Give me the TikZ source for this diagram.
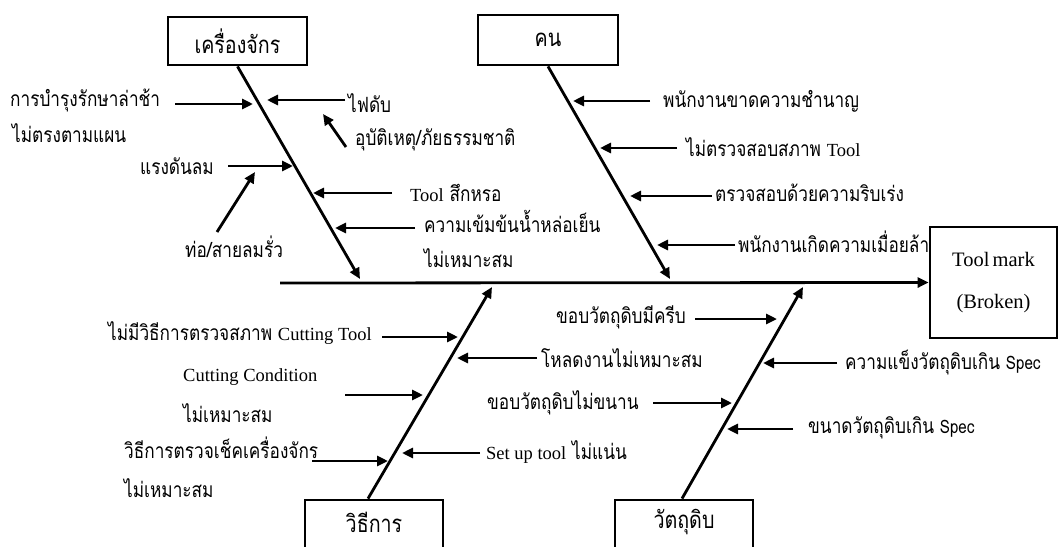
\documentclass[tikz,border=0pt]{standalone}
\usepackage{fontspec}
\setmainfont{Liberation Serif}
\newfontfamily\thai[Script=Thai,FakeStretch=0.82]{Loma}
\usetikzlibrary{arrows.meta}
\newcommand{\lat}[1]{{\rmfamily\fontsize{18.5}{20}\selectfont #1}}
\newcommand{\slat}[1]{{\fontsize{18.5}{20}\selectfont #1}}
\tikzset{
  bone/.style={line width=2.8pt,-{Triangle[length=11pt,width=10pt]}},
  cause/.style={line width=2.8pt,-{Triangle[length=11pt,width=10pt]}},
  catbox/.style={draw,line width=2.8pt,inner sep=0pt,font=\thai\fontsize{24}{26}\selectfont},
  lbl/.style={anchor=west,inner sep=0pt,font=\thai\fontsize{21}{24}\selectfont},
}
\begin{document}
\begin{tikzpicture}[x=1pt,y=-1pt]
\useasboundingbox[fill=white] (0,0) rectangle (1059,546);
% category boxes
\node[catbox,minimum width=139pt,minimum height=48pt] (mach) at (237.5,41) {เครื่องจักร};
\node[catbox,minimum width=140pt,minimum height=50pt] (man) at (548,40) {คน};
\node[catbox,minimum width=138pt,minimum height=54pt] (meth) at (374,527) {};
\node[lbl,font=\thai\fontsize{24}{26}\selectfont,anchor=center] (methT) at (374,522) {วิธีการ};
\node[catbox,minimum width=138pt,minimum height=54pt] (mat) at (684,527) {};
\node[lbl,font=\thai\fontsize{24}{26}\selectfont,anchor=center] (matT) at (684,522) {วัตถุดิบ};
\node[draw,line width=2.8pt,minimum width=127pt,minimum height=111pt,align=center,
      font=\rmfamily\fontsize{20.5}{42}\selectfont] (eff) at (993.5,282.5) {Tool\hspace{-2pt} mark\\(Broken)};
% spine and bones
\coordinate (sp0) at (280,283);
\draw[bone] (sp0) -- (eff.west);
\coordinate (mE) at (360,279);
\coordinate (pE) at (670,279);
\coordinate (meE) at (492,287);
\coordinate (maE) at (803,287);
\draw[bone] (mach.south) -- (mE);
\draw[bone] (man.south) -- (pE);
\draw[bone] ([xshift=-6pt]meth.north) -- (meE);
\draw[bone] ([xshift=-2pt]mat.north) -- (maE);
% machine causes
\node[lbl] (t1) at (10,100) {การบำรุงรักษาล่าช้า};
\node[lbl] (t1b) at (12,133) {ไม่ตรงตามแผน};
\node[lbl] (t2) at (348,103) {ไฟดับ};
\node[lbl] (t3) at (355,140) {อุบัติเหตุ/ภัยธรรมชาติ};
\node[lbl] (t4) at (140,166) {แรงดันลม};
\node[lbl] (t5) at (185,247) {ท่อ/สายลมรั่ว};
\node[lbl] (t6) at (410,193) {\lat{Tool} สึกหรอ};
\node[lbl] (t7) at (424,221) {ความเข้มข้นน้ำหล่อเย็น};
\node[lbl] (t7b) at (424,258) {ไม่เหมาะสม};
\coordinate (a1s) at (175,104); \coordinate (a1e) at (253,104);
\coordinate (a2s) at (345,100); \coordinate (a2e) at (267,100);
\coordinate (a3s) at (346,147); \coordinate (a3e) at (323,114);
\coordinate (a4s) at (228,166); \coordinate (a4e) at (293,166);
\coordinate (a5s) at (217,232); \coordinate (a5e) at (255,172);
\coordinate (a6s) at (392,193); \coordinate (a6e) at (313,193);
\coordinate (a7s) at (415,228); \coordinate (a7e) at (335,228);
\foreach \i in {1,...,7}{\draw[cause] (a\i s) -- (a\i e);}
% man causes
\node[lbl] (p1t) at (663,101) {พนักงานขาดความชำนาญ};
\node[lbl] (p2t) at (686,147) {ไม่ตรวจสอบสภาพ \lat{Tool}};
\node[lbl] (p3t) at (715,193) {ตรวจสอบด้วยความริบเร่ง};
\node[lbl] (p4t) at (738,242) {พนักงานเกิดความเมื่อยล้า};
\coordinate (b1s) at (650,101); \coordinate (b1e) at (573,101);
\coordinate (b2s) at (677,148); \coordinate (b2e) at (600,148);
\coordinate (b3s) at (712,196); \coordinate (b3e) at (630,196);
\coordinate (b4s) at (735,245); \coordinate (b4e) at (657,245);
\foreach \i in {1,...,4}{\draw[cause] (b\i s) -- (b\i e);}
% method causes
\node[lbl] (m1t) at (108,333) {ไม่มีวิธีการตรวจสภาพ \lat{Cutting Tool}};
\node[lbl] (m2t) at (183,377) {\lat{Cutting Condition}};
\node[lbl] (m2b) at (183,413) {ไม่เหมาะสม};
\node[lbl] (m3t) at (124,448) {วิธีการตรวจเช็คเครื่องจักร};
\node[lbl] (m3b) at (124,488) {ไม่เหมาะสม};
\node[lbl] (m4t) at (541,358) {โหลดงานไม่เหมาะสม};
\node[lbl] (m5t) at (486,452) {\lat{Set up tool} ไม่แน่น};
\coordinate (c1s) at (382,337); \coordinate (c1e) at (458,337);
\coordinate (c2s) at (345,395); \coordinate (c2e) at (423,395);
\coordinate (c3s) at (312,461); \coordinate (c3e) at (388,461);
\coordinate (c4s) at (537,358); \coordinate (c4e) at (457,358);
\coordinate (c5s) at (480,453); \coordinate (c5e) at (402,453);
\foreach \i in {1,...,5}{\draw[cause] (c\i s) -- (c\i e);}
% material causes
\node[lbl] (r1t) at (556,317) {ขอบวัตถุดิบมีครีบ};
\node[lbl] (r2t) at (487,403) {ขอบวัตถุดิบไม่ขนาน};
\node[lbl] (r3t) at (845,363) {ความแข็งวัตถุดิบเกิน \slat{Spec}};
\node[lbl] (r4t) at (808,428) {ขนาดวัตถุดิบเกิน \slat{Spec}};
\coordinate (d1s) at (695,319); \coordinate (d1e) at (777,319);
\coordinate (d2s) at (653,403); \coordinate (d2e) at (732,403);
\coordinate (d3s) at (837,363); \coordinate (d3e) at (763,363);
\coordinate (d4s) at (793,429); \coordinate (d4e) at (727,429);
\foreach \i in {1,...,4}{\draw[cause] (d\i s) -- (d\i e);}
\end{tikzpicture}
\end{document}
